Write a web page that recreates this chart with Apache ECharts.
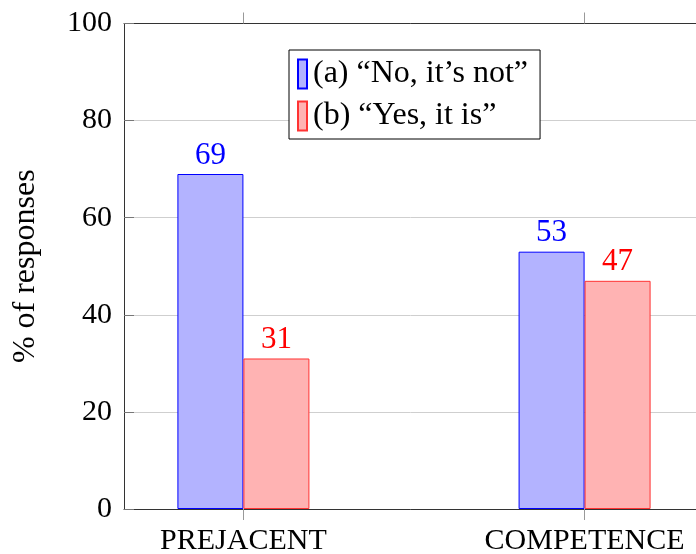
<!DOCTYPE html>
<html>
<head>
<meta charset="utf-8">
<script src="https://cdn.jsdelivr.net/npm/echarts@6/dist/echarts.min.js"></script>
<style>
  html, body { margin: 0; padding: 0; background: #fff; }
  #chart { width: 696px; height: 554px; }
</style>
</head>
<body>
<div id="chart"></div>
<script>
// chart data
var categories = ['PREJACENT', 'COMPETENCE']
var seriesNames = ['(a) \u201cNo, it\u2019s not\u201d', '(b) \u201cYes, it is\u201d']
var noValues = [69, 53]
var yesValues = [31, 47]
var yTicks = [0, 20, 40, 60, 80, 100]

var serif = '"Liberation Serif", "DejaVu Serif", serif'
var myChart = echarts.init(document.getElementById('chart'))

var catPos = categories.map(function (c, i) { return i })

var option = {
  animation: false,
  textStyle: { fontFamily: serif },
  grid: {
    left: 124, top: 23.5, width: 580, bottom: 45,
    containLabel: false, outerBoundsMode: 'none'
  },
  legend: {
    left: 289,
    top: 50,
    orient: 'vertical',
    icon: 'rect',
    backgroundColor: '#fff',
    borderColor: '#000',
    borderWidth: 1,
    padding: [8, 12, 7, 8],
    itemWidth: 9,
    itemHeight: 29,
    itemGap: 10,
    textStyle: { fontFamily: serif, fontSize: 32, lineHeight: 29, color: '#000', padding: [0, 0, 0, 1] },
    data: seriesNames
  },
  xAxis: [
    {
      type: 'value',
      min: -0.35,
      max: 1.35,
      splitLine: { show: false },
      axisLine: { show: true, onZero: false, lineStyle: { color: '#333', width: 1 } },
      axisTick: {
        show: true, customValues: catPos, length: 11, inside: false,
        lineStyle: { color: '#999' }
      },
      axisLabel: {
        show: true,
        customValues: catPos,
        margin: 17,
        fontFamily: serif,
        fontSize: 30,
        color: '#000',
        formatter: function (v) { return categories[Math.round(v)] }
      }
    },
    {
      type: 'value',
      position: 'top',
      min: -0.35,
      max: 1.35,
      splitLine: { show: false },
      axisLine: { show: true, onZero: false, lineStyle: { color: '#333', width: 1 } },
      axisTick: {
        show: true, customValues: catPos, length: 11, inside: false,
        lineStyle: { color: '#999' }
      },
      axisLabel: { show: false }
    }
  ],
  yAxis: {
    type: 'value',
    min: 0,
    max: 100,
    interval: 20,
    name: '% of responses',
    nameLocation: 'middle',
    nameGap: 82,
    nameTextStyle: { fontFamily: serif, fontSize: 32, color: '#000' },
    axisLine: { show: true, onZero: false, lineStyle: { color: '#333', width: 1 } },
    axisTick: { show: true, inside: true, length: 10, lineStyle: { color: '#777' } },
    splitLine: { show: true, lineStyle: { color: '#cfcfcf', width: 1 } },
    axisLabel: {
      margin: 12,
      fontFamily: serif,
      fontSize: 30,
      color: '#000',
      customValues: yTicks
    }
  },
  series: [
    {
      name: seriesNames[0],
      type: 'bar',
      barWidth: 66,
      barGap: '0%',
      data: noValues.map(function (v, i) { return [catPos[i], v] }),
      itemStyle: { color: '#b3b3ff', borderColor: '#0000ff', borderWidth: 1 },
      label: {
        show: true, position: 'top', distance: 3,
        fontFamily: serif, fontSize: 31, color: '#0000ff',
        formatter: function (p) { return p.value[1] }
      }
    },
    {
      name: seriesNames[1],
      type: 'bar',
      barWidth: 66,
      barGap: '0%',
      data: yesValues.map(function (v, i) { return [catPos[i], v] }),
      itemStyle: { color: '#ffb3b3', borderColor: '#ff3333', borderWidth: 1 },
      label: {
        show: true, position: 'top', distance: 3,
        fontFamily: serif, fontSize: 31, color: '#ff0000',
        formatter: function (p) { return p.value[1] }
      }
    }
  ]
}
myChart.setOption(option, true)
</script>
</body>
</html>
